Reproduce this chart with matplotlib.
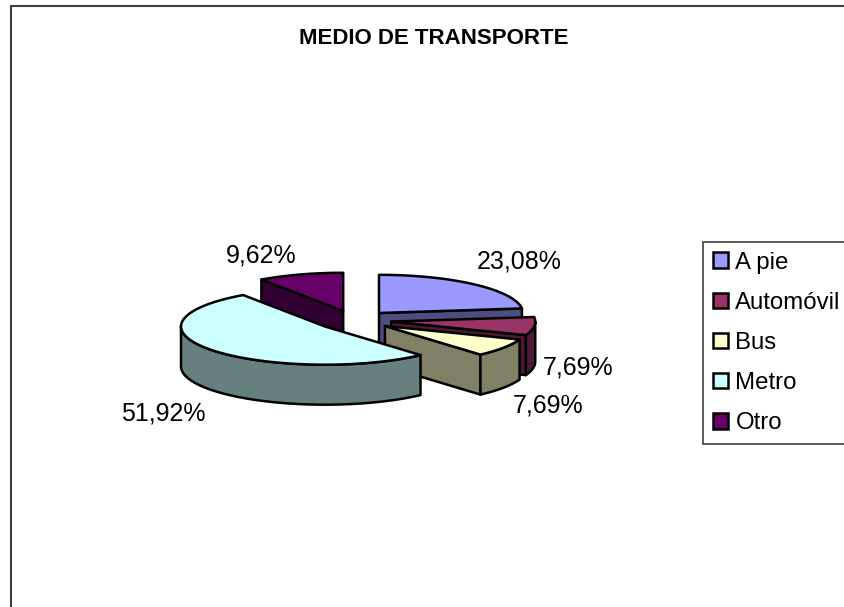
import numpy as np
import matplotlib
matplotlib.use('Agg')
import matplotlib.pyplot as plt
from matplotlib.patches import Polygon, Rectangle

plt.rcParams['font.family'] = ['Liberation Sans', 'DejaVu Sans']

titulo = 'MEDIO DE TRANSPORTE'
categorias = ['A pie', 'Automóvil', 'Bus', 'Metro', 'Otro']
porcentajes = [23.08, 7.69, 7.69, 51.92, 9.62]
etiquetas = ['23,08%', '7,69%', '7,69%', '51,92%', '9,62%']
colores = ['#9999FF', '#993366', '#FFFFCC', '#CCFFFF', '#660066']
colores_lado = ['#4D4D80', '#4D1A33', '#808066', '#668080', '#330033']

# geometria del pastel en pixeles
CX, CY = 354.3, 320.4
RX, RY = 144, 38.2
ALTO = 40
EXPLOSION = 0.2585
pos_etiquetas = [(519, 262), (578, 368), (548, 405), (163, 413), (261, 255)]

fig = plt.figure(figsize=(8.45, 6.07), dpi=100)
ax = fig.add_axes([0, 0, 1, 1])
ax.set_xlim(0, 845)
ax.set_ylim(607, 0)
ax.axis('off')

ax.add_patch(Rectangle((11, 6), 900, 700, facecolor='white', edgecolor='#404040', linewidth=1.5))
ax.text(434, 39, titulo, ha='center', va='center', fontsize=16, fontweight='bold')


def arco(cx, cy, t0, t1, dy=0):
    t = np.linspace(t0, t1, 60)
    return np.column_stack([cx + RX * np.sin(t), cy - RY * np.cos(t) + dy])


def cara(puntos, color, orden):
    ax.add_patch(Polygon(puntos, closed=True, facecolor=color, edgecolor='black',
                         linewidth=1.8, joinstyle='round', zorder=orden))


limites = np.cumsum([0] + porcentajes) / sum(porcentajes) * 2 * np.pi

# se pinta de atras hacia adelante
for orden, i in enumerate([4, 0, 1, 2, 3]):
    t0, t1 = limites[i], limites[i + 1]
    medio = (t0 + t1) / 2
    cx = CX + EXPLOSION * RX * np.sin(medio)
    cy = CY - EXPLOSION * RY * np.cos(medio)
    centro = np.array([[cx, cy]])
    z = orden + 2

    # caras de corte visibles
    for t, visible in [(t0, np.sin(t0) < -1e-6), (t1, np.sin(t1) > 1e-6)]:
        if visible:
            borde = arco(cx, cy, t, t, 0)[:1]
            abajo = np.array([0, ALTO])
            cara(np.vstack([centro, borde, borde + abajo, centro + abajo]), colores_lado[i], z)

    # pared curva del frente
    a0, a1 = max(t0, np.pi / 2), min(t1, 3 * np.pi / 2)
    if a1 > a0:
        arriba = arco(cx, cy, a0, a1)
        cara(np.vstack([arriba, arco(cx, cy, a1, a0, ALTO)]), colores_lado[i], z)

    cara(np.vstack([centro, arco(cx, cy, t0, t1)]), colores[i], z)

for texto, (x, y) in zip(etiquetas, pos_etiquetas):
    ax.text(x, y, texto, ha='center', va='center', fontsize=18, zorder=10)

manijas = [Rectangle((0, 0), 1, 1, facecolor=c, edgecolor='black', linewidth=1.8) for c in colores]
leyenda = ax.legend(manijas, categorias, loc='upper left', bbox_to_anchor=(703, 242),
                    bbox_transform=ax.transData, borderaxespad=0, fontsize=17.3, frameon=True,
                    fancybox=False, framealpha=1, edgecolor='#404040', handlelength=0.62,
                    handleheight=0.62, handletextpad=0.33, labelspacing=0.755, borderpad=0.4)
leyenda.get_frame().set_linewidth(1.2)
leyenda.set_zorder(11)

fig.savefig('out.png', dpi=100)
